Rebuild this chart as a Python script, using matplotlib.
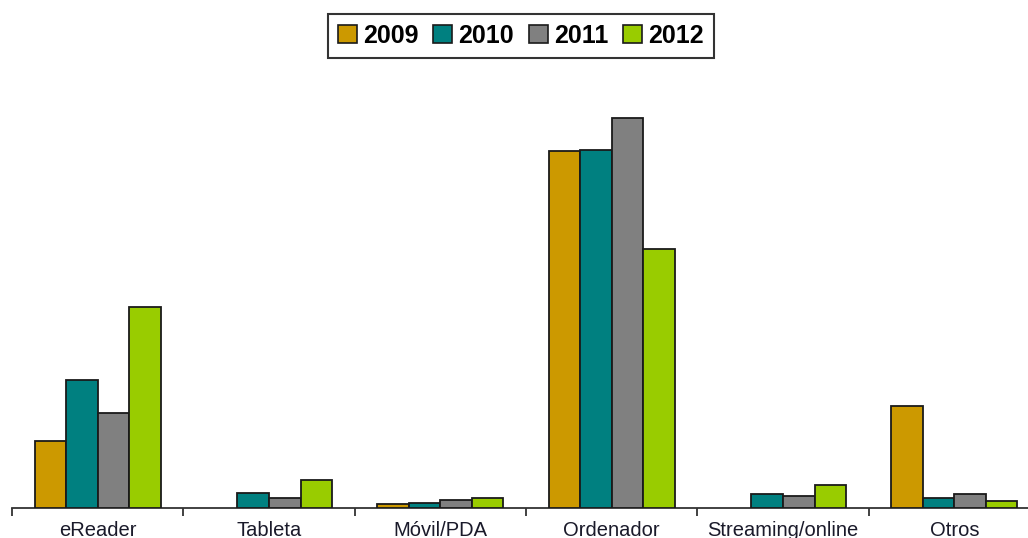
import numpy as np
import matplotlib.pyplot as plt
from matplotlib.patches import Patch

plt.rcParams['font.family'] = ['Liberation Sans', 'DejaVu Sans']

categorias = ["eReader", "Tableta", "Móvil/PDA", "Ordenador", "Streaming/online", "Otros"]
anios = ["2009", "2010", "2011", "2012"]
colores = ["#CC9900", "#008080", "#808080", "#99CC00"]

# porcentaje por dispositivo y año
v2009 = [12.7, 0.0, 0.75, 67.4, 0.0, 19.2]
v2010 = [24.2, 2.9, 1.0, 67.6, 2.6, 1.9]
v2011 = [17.9, 1.9, 1.6, 73.6, 2.2, 2.6]
v2012 = [37.9, 5.3, 1.9, 48.9, 4.4, 1.3]
series = [v2009, v2010, v2011, v2012]

W, H = 1028, 538
fig = plt.figure(figsize=(W / 100, H / 100), dpi=100)
# el eje se extiende más allá del borde derecho
ax = fig.add_axes([12 / W, 30 / H, 1028 / W, 408 / H])

x = np.arange(len(categorias))
ancho = 0.184
for i, (vals, col) in enumerate(zip(series, colores)):
    vals = np.array(vals, dtype=float)
    vals[vals == 0] = np.nan  # sin dato: no se dibuja la barra
    ax.bar(x + (i - 1.5) * ancho, vals, ancho, color=col,
           edgecolor="#1a1a1a", linewidth=1.3, zorder=3)

ax.set_xlim(-0.5, len(categorias) - 0.5)
ax.set_ylim(0, 408 / 5.3)

for s in ["top", "right", "left"]:
    ax.spines[s].set_visible(False)
ax.spines["bottom"].set_color("#333333")
ax.spines["bottom"].set_linewidth(1.3)
ax.set_yticks([])

ax.set_xticks(x)
ax.set_xticklabels(categorias, fontsize=14.5, color="#1a1a2a")
ax.tick_params(axis="x", which="major", length=0, pad=9)
ax.set_xticks(np.arange(len(categorias) + 1) - 0.5, minor=True)
ax.tick_params(axis="x", which="minor", length=6, width=1.3, color="#333333")

handles = [Patch(facecolor=c, edgecolor="#1a1a1a", linewidth=1.2) for c in colores]
leg = fig.legend(handles, anios, loc="upper center", bbox_to_anchor=(521 / W, 1 - 14 / H),
                 ncol=4, frameon=True, fancybox=False, edgecolor="black",
                 prop={"weight": "bold", "size": 18}, handlelength=0.75, handleheight=0.75,
                 handletextpad=0.25, columnspacing=0.6, borderpad=0.4, borderaxespad=0)
leg.get_frame().set_linewidth(1.5)

fig.savefig("out.png", dpi=100)
